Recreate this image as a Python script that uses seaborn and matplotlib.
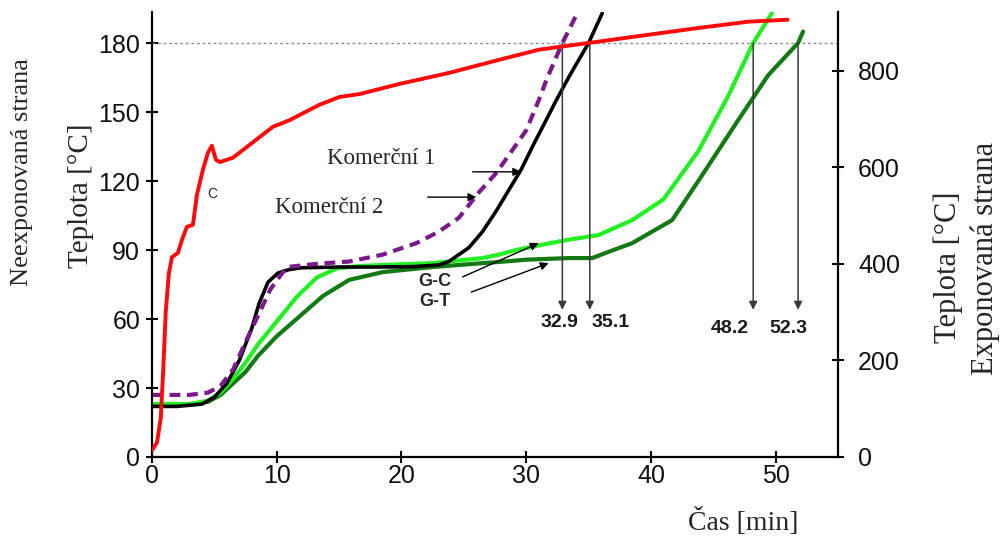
import numpy as np
import pandas as pd
import matplotlib
matplotlib.use("Agg")
import matplotlib.pyplot as plt
import seaborn as sns

# ---------------- data ----------------
# Komerční 1 (black), unexposed side, left axis [°C]
k1_t = [0, 2, 4, 5, 6, 7, 8, 8.6, 9.3, 10.1, 11, 12, 15, 18, 21, 23, 23.8, 24.6,
        25.4, 26.5, 27.6, 28.6, 29.6, 30.6, 31.6, 32.4, 33.5, 35.0, 36.1]
k1_v = [22, 22, 23, 26, 32, 42, 56, 67, 76, 80, 81.5, 82.3, 82.6, 82.6, 82.8, 83.5, 85, 88,
        91, 98, 107, 116, 125, 136, 146.5, 155, 166, 180, 193]

# Komerční 2 (purple dashed)
k2_t = [0, 3, 4.5, 5.5, 6.5, 7.5, 8.6, 9.5, 10.8, 13.2, 15.8, 18.5, 21.2, 23, 24.6,
        26.2, 27.6, 28.9, 30, 31, 31.7, 32.9, 34.1]
k2_v = [27, 27, 28, 31, 38, 50, 62.6, 73, 82.6, 84, 85, 88, 93, 98, 104,
        115, 123.5, 133.5, 142, 155, 165, 180, 193]

# G-C (light green)
gc_t = [0, 3, 4.5, 5.5, 6.5, 7.5, 8.5, 10.1, 11.6, 13.2, 14.8, 16.5, 18.5, 22.5, 26.5,
        27.8, 29.2, 31, 33.2, 35.8, 38.5, 41, 43.8, 46.2, 48.2, 49.7]
gc_v = [23, 23, 24.5, 28, 34, 41, 49, 59.6, 69.6, 78, 82, 83, 83.5, 84.3, 86.5,
        88, 90, 92, 94.3, 96.5, 103, 112, 133, 157, 180, 193]

# G-T (dark green)
gt_t = [0, 3, 4.5, 5.5, 6.5, 7.5, 8.5, 10, 11.8, 13.7, 15.8, 18.5, 22.5, 26.5, 27.8,
        30, 33.4, 35.3, 36.5, 38.5, 41.7, 43.8, 47, 49.4, 51.8, 52.2]
gt_v = [23, 23, 24, 27, 32, 37, 44, 52.5, 61, 70, 77, 80.4, 82.6, 84.3, 84.8,
        85.8, 86.5, 86.5, 89, 93, 103, 120, 146.5, 166, 180, 185]

# exposed side (red), right axis [°C]
ex_t = [0, 0.4, 0.7, 0.9, 1.1, 1.35, 1.6, 2.08, 2.4, 2.8, 3.28, 3.6, 4.08, 4.48, 4.8,
        5.12, 5.44, 6.48, 7.84, 9.68, 11.04, 13.44, 15.04, 16.64, 19.84, 23.84, 27.84,
        31.04, 35.04, 39.84, 43.84, 47.84, 50.96]
ex_v = [14, 30, 80, 180, 300, 380, 414, 423, 450, 477, 481, 543, 595, 630, 645,
        616, 611, 620, 647, 684, 698, 730, 746, 752, 773, 796, 823,
        844, 858, 875, 889, 902, 906]

limit_temp = 180
cross_times = [32.9, 35.1, 48.2, 51.8]
cross_labels = ["32.9", "35.1", "48.2", "52.3"]

x_ticks = [0, 10, 20, 30, 40, 50]
left_ticks = [0, 30, 60, 90, 120, 150, 180]
right_ticks = [0, 200, 400, 600, 800]

# ---------------- style ----------------
sns.set_style("ticks")
plt.rcParams["font.family"] = ["Liberation Sans", "DejaVu Sans"]
SERIF = ["Liberation Serif", "DejaVu Serif"]

fig = plt.figure(figsize=(10.01, 5.37), dpi=100)
ax = fig.add_axes([152 / 1001, 80 / 537, 686 / 1001, 445 / 537])
ax2 = ax.twinx()

def frame(t, v, name):
    return pd.DataFrame({"t": t, "v": v, "s": name})

sns.lineplot(data=frame(gt_t, gt_v, "G-T"), x="t", y="v", ax=ax,
             color="#137a13", lw=3.0, estimator=None)
sns.lineplot(data=frame(gc_t, gc_v, "G-C"), x="t", y="v", ax=ax,
             color="#22f022", lw=3.0, estimator=None)
sns.lineplot(data=frame(k1_t, k1_v, "Komerční 1"), x="t", y="v", ax=ax,
             color="black", lw=2.6, estimator=None)
sns.lineplot(data=frame(k2_t, k2_v, "Komerční 2"), x="t", y="v", ax=ax,
             color="#7a1a8a", lw=3.0, estimator=None, linestyle=(0, (2.6, 1.6)))
sns.lineplot(data=frame(ex_t, ex_v, "Exponovaná"), x="t", y="v", ax=ax2,
             color="#ff0a0a", lw=2.8, estimator=None)

ax.axhline(limit_temp, color="#8c8c8c", lw=1.0, ls=(0, (2, 2)), zorder=1)

ax.set_xlim(0, 55)
ax.set_ylim(0, 193.5)
ax2.set_ylim(0, 922)
ax.set_xticks(x_ticks)
ax.set_yticks(left_ticks)
ax2.set_yticks(right_ticks)
ax.set_xlabel("")
ax.set_ylabel("")
ax2.set_ylabel("")

for a in (ax, ax2):
    a.spines["top"].set_visible(False)
ax.spines["right"].set_visible(False)
ax2.spines["left"].set_visible(False)
ax2.spines["bottom"].set_visible(False)
for s in ("left", "bottom"):
    ax.spines[s].set_linewidth(1.6)
    ax.spines[s].set_color("black")
ax2.spines["right"].set_linewidth(1.6)
ax2.spines["right"].set_color("black")

ax.tick_params(axis="y", direction="inout", length=9, width=1.5, labelsize=18,
               pad=4, colors="black", labelcolor="#111111")
ax.tick_params(axis="x", direction="inout", length=8, width=1.5, labelsize=18,
               pad=1, colors="black", labelcolor="#111111")
ax2.tick_params(axis="y", direction="inout", length=9, width=1.5, labelsize=18,
                pad=10, colors="black", labelcolor="#111111")

# annotations
arrow_kw = dict(arrowstyle="-|>", color="black", lw=1.0, mutation_scale=12,
                shrinkA=0, shrinkB=0)
ax.annotate("", xy=(29.6, 124), xytext=(25.7, 124), arrowprops=arrow_kw)
ax.annotate("", xy=(26.0, 113), xytext=(22.1, 113), arrowprops=arrow_kw)
ax.annotate("", xy=(31.0, 93.0), xytext=(24.9, 78.3), arrowprops=arrow_kw)
ax.annotate("", xy=(31.8, 84.3), xytext=(25.6, 71.7), arrowprops=arrow_kw)

ax.text(18.4, 130, "Komerční 1", family=SERIF, fontsize=16.5, ha="center", va="center")
ax.text(14.2, 108.7, "Komerční 2", family=SERIF, fontsize=16.5, ha="center", va="center")
ax.text(22.7, 76.1, "G-C", fontsize=13, fontweight="bold", ha="center", va="center")
ax.text(22.7, 67.4, "G-T", fontsize=13, fontweight="bold", ha="center", va="center")
ax.text(4.8, 114.5, "C", fontsize=10, color="#1c2540", ha="center", va="center")

label_x = [32.7, 36.8, 46.3, 51.0]
label_y = [58.3, 58.3, 56.0, 56.0]
for xc, lx, ly, lab in zip(cross_times, label_x, label_y, cross_labels):
    ax.annotate("", xy=(xc, 64), xytext=(xc, limit_temp),
                arrowprops=dict(arrowstyle="-|>", color="#3a3a3a", lw=1.1,
                                mutation_scale=12, shrinkA=0, shrinkB=0))
    ax.text(lx, ly, lab, fontsize=14, fontweight="bold", ha="center", va="center",
            color="#1a1a1a")

# axis titles
fig.text(743 / 1001, 1 - 522 / 537, "Čas [min]", family=SERIF, fontsize=20,
         ha="center", va="center")
fig.text(22 / 1001, 1 - 172 / 537, "Neexponovaná strana", family=SERIF, fontsize=19,
         rotation=90, ha="center", va="center")
fig.text(81 / 1001, 1 - 196 / 537, "Teplota [°C]", family=SERIF, fontsize=21,
         rotation=90, ha="center", va="center")
fig.text(948 / 1001, 1 - 267 / 537, "Teplota [°C]", family=SERIF, fontsize=22,
         rotation=90, ha="center", va="center")
fig.text(985 / 1001, 1 - 258 / 537, "Exponovaná strana", family=SERIF, fontsize=22,
         rotation=90, ha="center", va="center")

fig.savefig("out.png", dpi=100)
